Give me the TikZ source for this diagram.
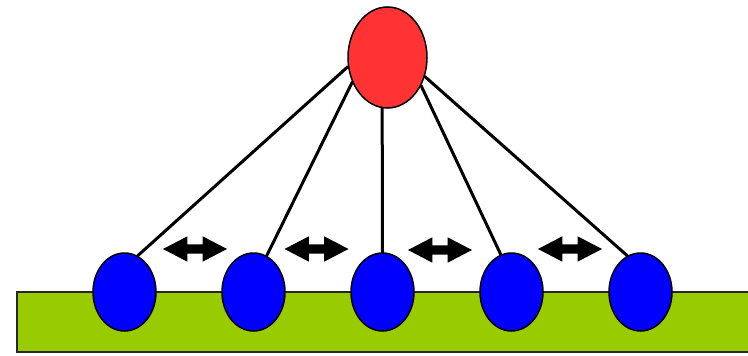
\documentclass[tikz,border=0pt]{standalone}
\usetikzlibrary{shapes.geometric,shapes.arrows}
\definecolor{cred}{RGB}{255,51,51}
\definecolor{cblue}{RGB}{0,0,255}
\definecolor{cgreen}{RGB}{153,204,0}
\tikzset{
  ground/.style={fill=cgreen,draw=black!85,line width=1.5pt},
  bead/.style={ellipse,draw=black,line width=1.5pt,inner sep=0pt},
  tether/.style={line width=3pt,line cap=round},
  swap/.style={double arrow,fill=black,inner xsep=0pt,inner ysep=4.5pt,minimum height=64pt,
    double arrow head extend=8pt,double arrow tip angle=55}
}

\begin{document}
\begin{tikzpicture}[x=1pt,y=-1pt]
    \useasboundingbox (0,0) rectangle (748,356);
    \draw[ground] (17,292) rectangle (760,352);                                   % surface
    \node[bead,fill=cred,minimum width=79pt,minimum height=101pt] (top) at (387.5,57.5) {};
    \foreach \i in {1,...,5}
      \node[bead,fill=cblue,minimum width=63pt,minimum height=78pt] (b\i) at ({124.5+129*(\i-1)},292) {};
    \foreach \i/\a/\b in {1/193/70,2/215/70,3/264/90,4/320/106,5/333/110}
      \draw[tether] (top.\a) -- (b\i.\b);
    \foreach \i/\x/\y in {1/195/249,2/316.5/249,3/440/250,4/570/249}
      \node[swap] (s\i) at (\x,\y) {};
  \end{tikzpicture}
\end{document}
